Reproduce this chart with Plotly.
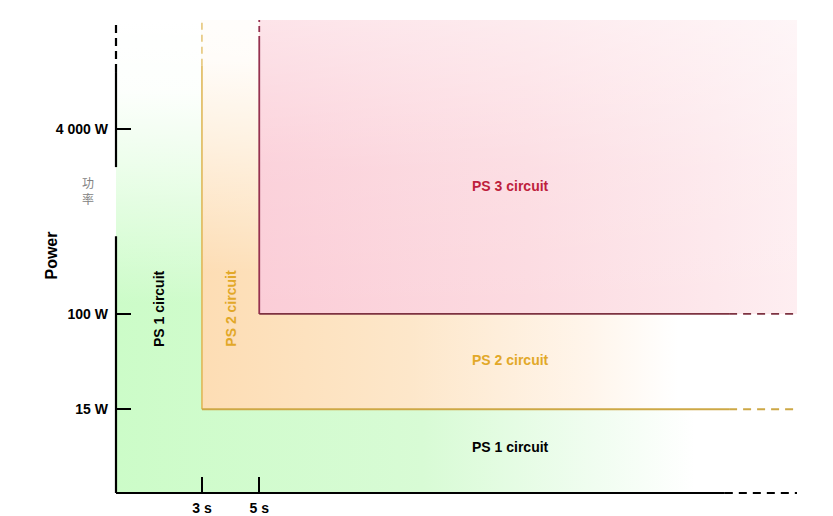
import plotly.graph_objects as go

# ---- data ----
time_ticks = [3, 5]                      # s
time_labels = ["3 s", "5 s"]
power_ticks = [15, 100, 4000]            # W
power_labels = ["15 W", "100 W", "4 000 W"]
regions = ["PS 1 circuit", "PS 2 circuit", "PS 3 circuit"]
region_start_time = [0, 3, 5]            # s
region_min_power = [None, 15, 100]       # W

# ---- axis extents (schematic, open-ended) ----
T_MAX = 23.77
T_DASH = 21.4
LOGP_MIN, LOGP_MAX = 0.4526, 4.5408
P_MIN, P_MAX = 10 ** LOGP_MIN, 10 ** LOGP_MAX
P_DASH = 14000

FONT = "Liberation Sans, Arial, sans-serif"

fig = go.Figure()

def rect(x0, x1, y0, y1, grad_type, scale):
    fig.add_trace(go.Scatter(
        x=[x0, x1, x1, x0, x0], y=[y0, y0, y1, y1, y0],
        mode="none", fill="toself", hoverinfo="skip", showlegend=False,
        fillgradient=dict(type=grad_type, colorscale=scale)))

# PS1 region (green)
rect(region_start_time[0], T_MAX, P_MIN, P_MAX, "horizontal",
     [[0, "rgb(204,252,200)"], [0.45, "rgb(216,251,213)"],
      [0.7, "rgb(240,253,240)"], [0.85, "rgb(255,255,255)"], [1, "rgb(255,255,255)"]])
# white fade at top of PS1 column
rect(region_start_time[0], region_start_time[1], P_MIN, P_MAX, "vertical",
     [[0, "rgba(255,255,255,0)"], [0.4, "rgba(255,255,255,0)"],
      [0.7, "rgba(255,255,255,0.65)"], [0.85, "rgba(255,255,255,0.95)"], [1, "rgba(255,255,255,1)"]])

# PS2 region (peach)
rect(region_start_time[1], T_MAX, region_min_power[1], P_MAX, "horizontal",
     [[0, "rgb(253,221,180)"], [0.35, "rgb(253,231,202)"],
      [0.65, "rgb(255,245,235)"], [0.8, "rgb(255,255,255)"], [1, "rgb(255,255,255)"]])
rect(region_start_time[1], region_start_time[2], region_min_power[1], P_MAX, "vertical",
     [[0, "rgba(255,255,255,0)"], [0.35, "rgba(255,255,255,0)"],
      [0.7, "rgba(255,255,255,0.6)"], [0.9, "rgba(255,255,255,0.92)"], [1, "rgba(255,255,255,0.95)"]])

# PS3 region (pink)
rect(region_start_time[2], T_MAX, region_min_power[2], P_MAX, "horizontal",
     [[0, "rgb(251,205,215)"], [0.5, "rgb(252,219,225)"],
      [0.85, "rgb(253,232,236)"], [1, "rgb(254,238,241)"]])
rect(region_start_time[2], T_MAX, region_min_power[2], P_MAX, "vertical",
     [[0, "rgba(255,255,255,0)"], [0.5, "rgba(255,255,255,0.1)"],
      [1, "rgba(255,255,255,0.45)"]])

def seg(x, y, color, width, dash="solid"):
    fig.add_trace(go.Scatter(x=x, y=y, mode="lines", hoverinfo="skip",
                             showlegend=False,
                             line=dict(color=color, width=width, dash=dash)))

# PS2 boundary
c2v, c2h = "rgb(222,180,80)", "rgb(205,168,70)"
seg([region_start_time[1]] * 2, [region_min_power[1], P_DASH], c2v, 1.5)
seg([region_start_time[1]] * 2, [P_DASH, P_MAX], c2v, 1.2, "7px,5px")
seg([region_start_time[1], T_DASH], [region_min_power[1]] * 2, c2h, 2)
seg([T_DASH, T_MAX], [region_min_power[1]] * 2, c2h, 2, "8px,6px")

# PS3 boundary
c3v, c3h = "rgb(150,50,80)", "rgb(125,50,65)"
seg([region_start_time[2]] * 2, [region_min_power[2], P_DASH * 1.6], c3v, 1.8)
seg([region_start_time[2]] * 2, [P_DASH * 1.6, P_MAX], c3v, 1.8, "6px,4px")
seg([region_start_time[2], T_DASH], [region_min_power[2]] * 2, c3h, 1.8)
seg([T_DASH, T_MAX], [region_min_power[2]] * 2, c3h, 1.8, "8px,6px")

# axes lines (schematic, with dashes and a break)
shapes = [
    dict(type="line", xref="paper", yref="paper", x0=0, x1=0.894, y0=0, y1=0,
         line=dict(color="black", width=2.2)),
    dict(type="line", xref="paper", yref="paper", x0=0.894, x1=1.0, y0=0, y1=0,
         line=dict(color="black", width=2.2, dash="8px,6px")),
    dict(type="line", xref="paper", yref="paper", x0=0, x1=0, y0=0, y1=0.543,
         line=dict(color="black", width=2.2)),
    dict(type="line", xref="paper", yref="paper", x0=0, x1=0, y0=0.689, y1=0.890,
         line=dict(color="black", width=2.2)),
    dict(type="line", xref="paper", yref="paper", x0=0, x1=0, y0=0.890, y1=1.0,
         line=dict(color="black", width=2.2, dash="8px,5px")),
]

def b(t):
    return "<b>" + t + "</b>"

def ann(text, x, y, color, size=14, angle=0, xref="paper", family=FONT):
    return dict(text=text, x=x, y=y, xref=xref, yref="paper", textangle=angle,
                xanchor="center", yanchor="middle", showarrow=False,
                font=dict(family=family, size=size, color=color))

annotations = [
    ann(b(regions[2]), 0.5786, 0.649, "rgb(190,30,60)"),
    ann(b(regions[1]), 0.5786, 0.281, "rgb(226,168,40)"),
    ann(b(regions[0]), 0.5786, 0.0973, "black"),
    ann(b(regions[0]), (region_start_time[0] + region_start_time[1]) / 2, 0.391,
        "black", angle=-90, xref="x"),
    ann(b(regions[1]), (region_start_time[1] + region_start_time[2]) / 2, 0.391,
        "rgb(226,168,40)", angle=-90, xref="x"),
    ann(b("Power"), -0.094, 0.502, "black", size=16, angle=-90),
    ann("功<br>率", -0.041, 0.640, "rgb(130,130,130)", size=12,
        family="Noto Sans CJK SC"),
]

# page body has an 8px default margin; size the figure to fit the window
fig.update_layout(
    width=825, height=508,
    margin=dict(l=108, r=36, t=12, b=23, autoexpand=False),
    paper_bgcolor="white", plot_bgcolor="white",
    showlegend=False,
    shapes=shapes, annotations=annotations,
    xaxis=dict(range=[0, T_MAX], showgrid=False, zeroline=False, showline=False,
               automargin=False,
               tickvals=time_ticks, ticktext=[b(t) for t in time_labels],
               ticks="inside", ticklen=16, tickwidth=1.5, tickcolor="black",
               tickfont=dict(family=FONT, size=14, color="black"),
               ticklabelstandoff=5),
    yaxis=dict(type="log", range=[LOGP_MIN, LOGP_MAX], showgrid=False,
               zeroline=False, showline=False, automargin=False,
               tickvals=power_ticks, ticktext=[b(t) for t in power_labels],
               ticks="inside", ticklen=15, tickwidth=1.5, tickcolor="black",
               tickfont=dict(family=FONT, size=14, color="black"),
               ticklabelstandoff=7),
)

fig.write_html("out.html")
